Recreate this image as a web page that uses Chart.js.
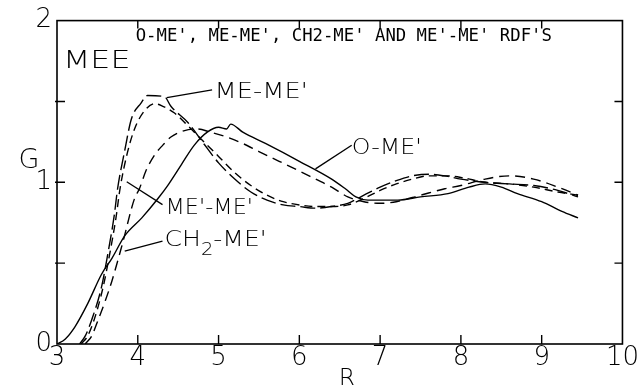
<!DOCTYPE html>
<html>
<head>
<meta charset="utf-8">
<script src="https://cdn.jsdelivr.net/npm/chart.js@4.4.1/dist/chart.umd.min.js"></script>
<style>
html,body{margin:0;padding:0;background:#fff;}
#wrap{width:638px;height:385px;}
</style>
</head>
<body>
<div id="wrap"><canvas id="c" width="638" height="385"></canvas></div>
<script>
// ---- data ----
const xTicks = [3, 4, 5, 6, 7, 8, 9, 10];
const yTicks = [0, 0.5, 1, 1.5, 2];
const yTickLabels = ['0', '', '1', '', '2'];

const seriesNames = ["O-ME'", "ME-ME'", "ME'-ME'", "CH2-ME'"];

const rOMe = [3.0, 3.1, 3.22, 3.38, 3.55, 3.68, 3.84, 4.05, 4.25, 4.37, 4.54, 4.70, 4.86, 5.0, 5.1, 5.15, 5.3, 5.58, 6.0, 6.4, 6.57, 6.7, 6.85, 7.0, 7.22, 7.5, 7.84, 8.1, 8.3, 8.5, 8.7, 9.0, 9.25, 9.45];
const gOMe = [0, 0.03, 0.105, 0.25, 0.43, 0.53, 0.67, 0.78, 0.90, 0.98, 1.11, 1.23, 1.31, 1.34, 1.33, 1.36, 1.31, 1.24, 1.13, 1.02, 0.96, 0.91, 0.89, 0.89, 0.89, 0.91, 0.93, 0.97, 0.99, 0.97, 0.93, 0.88, 0.82, 0.78];

const rMeMe = [3.28, 3.35, 3.43, 3.55, 3.63, 3.71, 3.75, 3.84, 3.92, 4.04, 4.12, 4.33, 4.41, 4.62, 4.8, 5.0, 5.2, 5.4, 5.6, 5.8, 6.0, 6.2, 6.4, 6.6, 6.8, 7.0, 7.2, 7.4, 7.6, 7.8, 8.0, 8.3, 8.6, 8.9, 9.2, 9.45];
const gMeMe = [0, 0.05, 0.15, 0.35, 0.56, 0.80, 0.96, 1.20, 1.39, 1.49, 1.537, 1.53, 1.47, 1.37, 1.25, 1.12, 1.02, 0.94, 0.89, 0.86, 0.85, 0.84, 0.85, 0.87, 0.92, 0.97, 1.01, 1.04, 1.05, 1.04, 1.02, 1.0, 0.99, 0.98, 0.95, 0.91];

const rMpMe = [3.3, 3.38, 3.46, 3.57, 3.65, 3.73, 3.78, 3.87, 3.96, 4.08, 4.21, 4.31, 4.45, 4.62, 4.78, 5.0, 5.2, 5.4, 5.6, 5.8, 6.0, 6.2, 6.4, 6.6, 6.8, 7.0, 7.2, 7.4, 7.6, 7.8, 8.0, 8.3, 8.6, 8.9, 9.2, 9.45];
const gMpMe = [0, 0.05, 0.15, 0.35, 0.55, 0.78, 0.96, 1.18, 1.33, 1.44, 1.486, 1.47, 1.43, 1.35, 1.27, 1.16, 1.06, 0.98, 0.92, 0.88, 0.86, 0.85, 0.85, 0.86, 0.90, 0.95, 0.99, 1.02, 1.04, 1.04, 1.03, 1.0, 0.99, 0.97, 0.94, 0.92];

const rCH2 = [3.35, 3.43, 3.51, 3.6, 3.68, 3.81, 3.96, 4.02, 4.1, 4.21, 4.31, 4.41, 4.58, 4.74, 4.9, 5.1, 5.3, 5.5, 5.75, 6.0, 6.2, 6.4, 6.6, 6.8, 7.0, 7.2, 7.5, 7.8, 8.0, 8.3, 8.6, 8.9, 9.2, 9.45];
const gCH2 = [0, 0.05, 0.15, 0.27, 0.39, 0.62, 0.90, 0.96, 1.07, 1.17, 1.23, 1.28, 1.32, 1.33, 1.31, 1.28, 1.24, 1.19, 1.13, 1.07, 1.02, 0.97, 0.91, 0.88, 0.87, 0.88, 0.92, 0.96, 0.98, 1.02, 1.04, 1.02, 0.97, 0.92];

const titleText = "O-ME', ME-ME', CH2-ME' AND ME'-ME' RDF'S";
const systemLabel = "MEE";
const xTitle = "R";
const yTitle = "G";

// ---- build ----
function pts(xs, ys) { return xs.map((x, i) => ({x: x, y: ys[i]})); }

const FONT = "'DejaVu Sans', 'Liberation Sans', sans-serif";

function ds(label, xs, ys, dash) {
  return {
    label: label, data: pts(xs, ys), showLine: true, borderColor: '#000',
    borderWidth: 1.4, borderDash: dash, pointRadius: 0, tension: 0.35,
    cubicInterpolationMode: 'monotone', fill: false
  };
}

// label annotations: text anchored in data units, pointer line from/to in data units
const annotations = [
  {text: "ME-ME'", x: 4.95, y: 1.523, size: 22, sx: 1.17, p: [[4.36, 1.523], [4.92, 1.572]]},
  {text: "O-ME'", x: 6.65, y: 1.174, size: 22, sx: 1.08, p: [[6.20, 1.083], [6.648, 1.229]]},
  {text: "ME'-ME'", x: 4.343, y: 0.801, size: 22, sx: 1.02, p: [[3.863, 1.003], [4.306, 0.862]]},
  {text: "CH", sub: "2", rest: "-ME'", x: 4.331, y: 0.606, size: 22, sx: 1.14, p: [[3.838, 0.575], [4.306, 0.636]]}
];

function wideText(ctx, txt, x, y, sx) {
  ctx.save();
  ctx.translate(x, y);
  ctx.scale(sx, 1);
  ctx.fillText(txt, 0, 0);
  ctx.restore();
  return ctx.measureText(txt).width * sx;
}

const framePlugin = {
  id: 'frame',
  afterDatasetsDraw(chart) {
    const ctx = chart.ctx, a = chart.chartArea;
    const xs = chart.scales.x, ys = chart.scales.y;
    ctx.save();
    ctx.strokeStyle = '#000';
    ctx.lineWidth = 1.6;
    ctx.strokeRect(a.left, a.top, a.right - a.left, a.bottom - a.top);
    ctx.lineWidth = 1.4;
    ctx.beginPath();
    xTicks.slice(1, -1).forEach(v => {
      const px = xs.getPixelForValue(v);
      ctx.moveTo(px, a.bottom); ctx.lineTo(px, a.bottom - 9);
      ctx.moveTo(px, a.top); ctx.lineTo(px, a.top + 8);
    });
    yTicks.slice(1, -1).forEach(v => {
      const py = ys.getPixelForValue(v);
      ctx.moveTo(a.left - 2, py); ctx.lineTo(a.left + 8, py);
      ctx.moveTo(a.right, py); ctx.lineTo(a.right - 8, py);
    });
    ctx.stroke();

    // pointer lines and labels
    ctx.fillStyle = '#000';
    ctx.textBaseline = 'alphabetic';
    ctx.textAlign = 'left';
    ctx.lineWidth = 1.3;
    annotations.forEach(an => {
      ctx.beginPath();
      ctx.moveTo(xs.getPixelForValue(an.p[0][0]), ys.getPixelForValue(an.p[0][1]));
      ctx.lineTo(xs.getPixelForValue(an.p[1][0]), ys.getPixelForValue(an.p[1][1]));
      ctx.stroke();
      const x = xs.getPixelForValue(an.x), y = ys.getPixelForValue(an.y);
      ctx.font = '200 ' + an.size + 'px ' + FONT;
      let w = wideText(ctx, an.text, x, y, an.sx);
      if (an.sub) {
        ctx.font = '200 ' + Math.round(an.size * 0.75) + 'px ' + FONT;
        w += wideText(ctx, an.sub, x + w, y + 9, an.sx);
        ctx.font = '200 ' + an.size + 'px ' + FONT;
        wideText(ctx, an.rest, x + w, y, an.sx);
      }
    });

    // title (plotter-like mono text)
    ctx.font = '17.3px "DejaVu Sans Mono", "Liberation Mono", monospace';
    ctx.fillText(titleText, xs.getPixelForValue(3.974), ys.getPixelForValue(1.872));

    // system label
    ctx.font = '200 25px ' + FONT;
    wideText(ctx, systemLabel, xs.getPixelForValue(3.074), ys.getPixelForValue(1.706), 1.27);

    // axis titles
    ctx.font = '200 27px ' + FONT;
    ctx.textAlign = 'center';
    ctx.fillText(yTitle, 29, 168);
    ctx.font = '200 24px ' + FONT;
    ctx.fillText(xTitle, xs.getPixelForValue(6.59), 386);
    ctx.restore();
  }
};

new Chart(document.getElementById('c'), {
  type: 'scatter',
  data: {
    datasets: [
      ds(seriesNames[0], rOMe, gOMe, []),
      ds(seriesNames[1], rMeMe, gMeMe, [15, 5]),
      ds(seriesNames[2], rMpMe, gMpMe, [8, 5]),
      ds(seriesNames[3], rCH2, gCH2, [10, 6])
    ]
  },
  options: {
    responsive: false,
    animation: false,
    devicePixelRatio: 1,
    layout: {padding: {top: 17, right: 13, left: 0, bottom: 0}},
    plugins: {legend: {display: false}, tooltip: {enabled: false}, title: {display: false}},
    scales: {
      x: {
        type: 'linear', min: 3, max: 10,
        afterBuildTicks: s => { s.ticks = xTicks.map(v => ({value: v})); },
        ticks: {color: '#000', font: {family: FONT, size: 26, weight: 200}, padding: -1, maxRotation: 0, autoSkip: false},
        grid: {display: false, drawTicks: false, tickLength: 0},
        border: {display: false},
        afterFit: s => { s.height = 41; }
      },
      y: {
        type: 'linear', min: 0, max: 2,
        afterBuildTicks: s => { s.ticks = yTicks.map(v => ({value: v})); },
        ticks: {color: '#000', font: {family: FONT, size: 26, weight: 200}, padding: 5,
          callback: (v) => { const i = yTicks.indexOf(v); return i >= 0 ? yTickLabels[i] : ''; }},
        grid: {display: false, drawTicks: false, tickLength: 0},
        border: {display: false},
        afterFit: s => { s.width = 57; }
      }
    }
  },
  plugins: [framePlugin]
});
</script>
</body>
</html>
